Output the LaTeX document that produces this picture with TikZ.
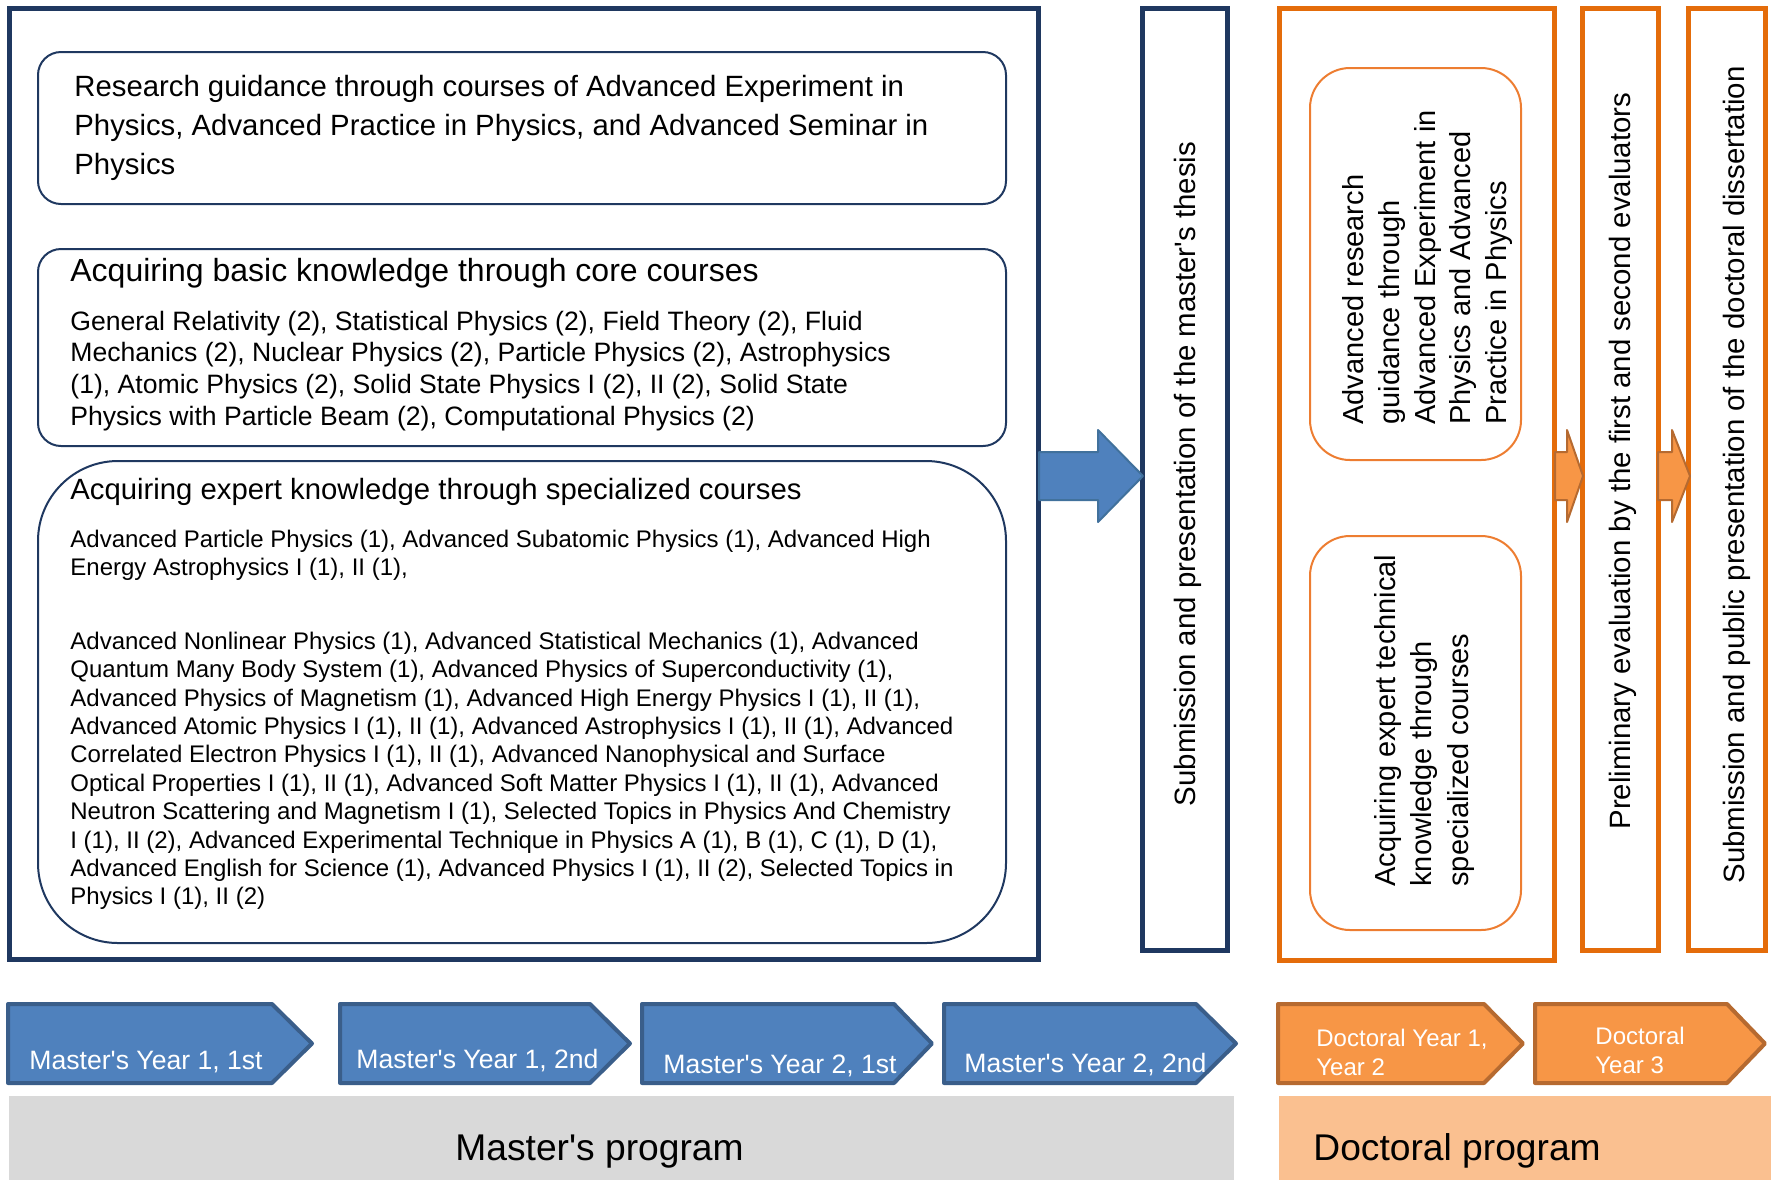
\documentclass[tikz,border=0pt]{standalone}
\usepackage{fontspec}
\setmainfont{Liberation Sans}[Ligatures=TeXOff]
\usepackage{xcolor}
\usepackage{tikz}
\usetikzlibrary{arrows.meta, positioning}

\definecolor{navy}{RGB}{31,56,96}
\definecolor{chevblue}{RGB}{79,129,189}
\definecolor{chevblueedge}{RGB}{58,94,138}
\definecolor{arrowedge}{RGB}{65,113,156}
\definecolor{dorange}{RGB}{228,108,10}
\definecolor{lorange}{RGB}{237,125,49}
\definecolor{chevorange}{RGB}{247,150,70}
\definecolor{chevorangeedge}{RGB}{182,106,48}
\definecolor{bandgray}{RGB}{217,217,217}
\definecolor{bandorange}{RGB}{250,192,144}

\begin{document}
\begin{tikzpicture}[x=0.5pt, y=-0.5pt,
    mframe/.style={draw=navy, line width=2.5pt},
    oframe/.style={draw=dorange, line width=2.5pt},
    mbox/.style={draw=navy, line width=1pt, rounded corners=11.5pt},
    obox/.style={draw=lorange, line width=1pt, rounded corners=20pt},
    mchev/.style={fill=chevblue, draw=chevblueedge, line width=2pt, line join=round},
    dchev/.style={fill=chevorange, draw=chevorangeedge, line width=2pt, line join=round},
    barrow/.style={fill=chevblue, draw=arrowedge, line width=1pt, line join=round},
    oarrow/.style={fill=chevorange, draw=chevorangeedge, line width=1pt, line join=round},
    txt/.style={anchor=north west, inner sep=0pt, align=left},
    vtxt/.style={rotate=90, inner sep=0pt, font=\fontsize{14.7}{17}\selectfont},
    chevlabel/.style={anchor=base west, inner sep=0pt, text=white}
]
    \useasboundingbox (0,0) rectangle (1771,1180);

    % Program bands at the bottom
    \fill[bandgray] (9,1096) rectangle (1234,1180);
    \fill[bandorange] (1279,1096) rectangle (1771,1180);
    \node[anchor=base west, inner sep=0pt, font=\fontsize{18.6}{20}\selectfont] (mprog) at (455,1160) {Master's program};
    \node[anchor=base west, inner sep=0pt, font=\fontsize{18.6}{20}\selectfont] (dprog) at (1313,1160) {Doctoral program};

    % Master's frame and its boxes
    \draw[mframe] (9,8) rectangle (1038,959);
    \draw[mbox] (38,52) rectangle (1006,204);
    \draw[mbox] (38,249) rectangle (1006,446);
    \draw[mbox, rounded corners=40pt] (38,461) rectangle (1006,943);

    \node[txt, font=\fontsize{14.66}{19.5}\selectfont] (rguide) at (74,74.5)
        {Research guidance through courses of Advanced Experiment in\\
         Physics, Advanced Practice in Physics, and Advanced Seminar in\\
         Physics};

    \node[txt, font=\fontsize{16}{19}\selectfont] (corehead) at (70,258)
        {Acquiring basic knowledge through core courses};
    \node[txt, font=\fontsize{13.3}{15.9}\selectfont] (corelist) at (70,310.5)
        {General Relativity (2), Statistical Physics (2), Field Theory (2), Fluid\\
         Mechanics (2), Nuclear Physics (2), Particle Physics (2), Astrophysics\\
         (1), Atomic Physics (2), Solid State Physics I (2), II (2), Solid State\\
         Physics with Particle Beam (2), Computational Physics (2)};

    \node[txt, font=\fontsize{14.65}{17}\selectfont] (spechead) at (70,478)
        {Acquiring expert knowledge through specialized courses};
    \node[txt, font=\fontsize{12}{14.2}\selectfont] (speclistA) at (70,529.5)
        {Advanced Particle Physics (1), Advanced Subatomic Physics (1), Advanced High\\
         Energy Astrophysics I (1), II (1),};
    \node[txt, font=\fontsize{12}{14.2}\selectfont] (speclistB) at (70,631.5)
        {Advanced Nonlinear Physics (1), Advanced Statistical Mechanics (1), Advanced\\
         Quantum Many Body System (1), Advanced Physics of Superconductivity (1),\\
         Advanced Physics of Magnetism (1), Advanced High Energy Physics I (1), II (1),\\
         Advanced Atomic Physics I (1), II (1), Advanced Astrophysics I (1), II (1), Advanced\\
         Correlated Electron Physics I (1), II (1), Advanced Nanophysical and Surface\\
         Optical Properties I (1), II (1), Advanced Soft Matter Physics I (1), II (1), Advanced\\
         Neutron Scattering and Magnetism I (1), Selected Topics in Physics And Chemistry\\
         I (1), II (2), Advanced Experimental Technique in Physics A (1), B (1), C (1), D (1),\\
         Advanced English for Science (1), Advanced Physics I (1), II (2), Selected Topics in\\
         Physics I (1), II (2)};

    % Master's thesis column
    \draw[mframe] (1142,8) rectangle (1227,950);
    \node[vtxt] (mthesis) at (1188,474) {Submission and presentation of the master's thesis};

    % Doctoral frame and its boxes
    \draw[oframe] (1279,8) rectangle (1554,960);
    \draw[obox] (1310,68) rectangle (1521,460);
    \draw[obox] (1310,536) rectangle (1521,930);
    \node[txt, rotate=90, font=\fontsize{14.5}{17.9}\selectfont] (dguide) at (1342,425)
        {Advanced research\\guidance through\\Advanced Experiment in\\Physics and Advanced\\Practice in Physics};
    \node[txt, rotate=90, font=\fontsize{14.5}{18.2}\selectfont] (dspec) at (1374,887)
        {Acquiring expert technical\\knowledge through\\specialized courses};

    % Evaluation and dissertation columns
    \draw[oframe] (1582,8) rectangle (1658,950);
    \draw[oframe] (1688,8) rectangle (1765,950);
    \node[vtxt] (deval) at (1623,461) {Preliminary evaluation by the first and second evaluators};
    \node[vtxt] (ddiss) at (1737,475) {Submission and public presentation of the doctoral dissertation};

    % Block arrows between the stages
    \foreach \tl/\bs/\tp/\st in {1039/1098/1143/barrow, 1555/1567/1583/oarrow, 1658/1672/1690/oarrow}
        \draw[\st] (\tl,452) -- (\bs,452) -- (\bs,430) -- (\tp,476) -- (\bs,522) -- (\bs,500) -- (\tl,500) -- cycle;

    % Timeline chevrons
    \foreach \l/\b/\r in {8/272/312, 340/590/630, 642/894/932, 944/1196/1236}
        \draw[mchev] (\l,1004) -- (\b,1004) -- (\r,1043.5) -- (\b,1083) -- (\l,1083) -- cycle;
    \foreach \l/\b/\r in {1278/1484/1523, 1535/1727/1765}
        \draw[dchev] (\l,1004) -- (\b,1004) -- (\r,1043.5) -- (\b,1083) -- (\l,1083) -- cycle;

    \node[chevlabel, font=\fontsize{13.3}{14}\selectfont] (my1a) at (29,1069) {Master's Year 1, 1st};
    \node[chevlabel, font=\fontsize{13.3}{14}\selectfont] (my1b) at (356,1068) {Master's Year 1, 2nd};
    \node[chevlabel, font=\fontsize{13.3}{14}\selectfont] (my2a) at (663,1073) {Master's Year 2, 1st};
    \node[chevlabel, font=\fontsize{13.3}{14}\selectfont] (my2b) at (964,1072) {Master's Year 2, 2nd};
    \node[txt, text=white, font=\fontsize{12}{14.7}\selectfont] (dy12) at (1316,1028.5) {Doctoral Year 1,\\Year 2};
    \node[txt, text=white, font=\fontsize{12}{14.7}\selectfont] (dy3) at (1595,1026.5) {Doctoral\\Year 3};
\end{tikzpicture}
\end{document}
